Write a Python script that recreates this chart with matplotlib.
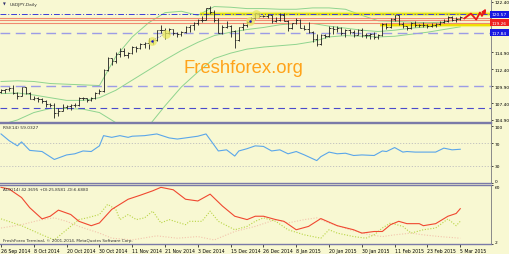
import matplotlib
matplotlib.use('Agg')
import matplotlib.pyplot as plt

BG = '#f8f8d2'
plt.rcParams['font.family'] = ['DejaVu Sans']

# daily bars, 26 Sep 2014 .. 5 Mar 2015 (bar index 0..112)
o = [109.05, 109.28, 109.45, 109.65, 108.90, 108.48, 109.77, 108.85, 108.05, 108.10,
     108.00, 107.70, 107.34, 107.18, 105.92, 106.28, 106.88, 106.91, 107.18, 107.08,
     108.20, 108.12, 107.81, 108.17, 108.89, 109.21, 112.31, 114.04, 113.58, 114.70,
     115.05, 114.59, 114.78, 115.77, 115.50, 116.18, 116.33, 116.65, 116.68, 118.20,
     118.22, 117.74, 118.37, 117.80, 117.69, 117.98, 118.65, 118.90, 119.20, 119.78,
     119.75, 121.43, 120.93, 119.70, 117.82, 118.70, 118.80, 118.08, 116.77, 118.60,
     118.90, 119.48, 120.05, 120.70, 120.30, 120.35, 120.40, 119.60, 119.75, 120.48,
     119.60, 118.47, 119.20, 119.78, 118.57, 118.45, 117.98, 116.93, 116.18, 117.53,
     117.30, 118.50, 118.34, 118.52, 117.72, 118.30, 117.88, 117.55, 118.27, 117.48,
     117.52, 117.60, 117.23, 117.53, 119.10, 118.64, 119.90, 120.38, 119.05, 118.78,
     118.50, 119.30, 118.90, 118.92, 119.00, 118.80, 118.95, 119.15, 119.45, 119.60,
     120.15, 119.75, 119.80]
h = [109.45, 109.55, 109.85, 110.08, 109.05, 109.85, 109.80, 109.05, 108.50, 108.35,
     108.15, 107.80, 107.45, 107.40, 106.60, 107.20, 107.10, 107.25, 107.35, 108.30,
     108.35, 108.20, 108.25, 109.00, 109.45, 112.46, 114.20, 114.10, 114.90, 115.50,
     115.60, 115.00, 115.90, 115.85, 116.25, 116.40, 117.10, 116.90, 118.25, 118.95,
     118.50, 118.50, 118.45, 118.00, 118.10, 118.75, 119.00, 119.35, 119.90, 120.25,
     121.45, 121.85, 121.20, 120.05, 118.95, 119.55, 119.00, 118.20, 118.70, 119.20,
     119.60, 120.15, 120.80, 120.75, 120.50, 120.65, 120.45, 120.20, 120.75, 120.80,
     119.70, 119.30, 119.95, 119.90, 119.00, 119.35, 118.15, 117.70, 117.65, 117.70,
     118.85, 118.75, 118.85, 118.70, 118.40, 118.40, 118.30, 118.45, 118.55, 117.75,
     117.85, 117.95, 117.60, 119.20, 119.25, 120.05, 120.48, 120.40, 119.40, 118.80,
     119.45, 119.55, 119.10, 119.40, 119.15, 119.30, 119.25, 119.50, 119.85, 120.30,
     120.25, 120.10, 120.25]
l = [108.85, 108.90, 109.25, 108.75, 108.00, 108.40, 108.70, 107.95, 107.85, 107.60,
     107.40, 106.75, 106.85, 105.23, 105.50, 106.20, 106.55, 106.35, 106.80, 106.95,
     107.90, 107.60, 107.75, 108.05, 108.80, 109.10, 112.20, 113.00, 113.40, 114.20,
     114.40, 114.10, 114.60, 114.90, 115.40, 115.60, 115.45, 116.20, 116.60, 117.75,
     116.90, 117.60, 117.50, 117.25, 117.40, 117.85, 117.90, 118.30, 119.00, 119.40,
     119.70, 120.60, 119.40, 117.80, 117.65, 118.50, 117.20, 115.57, 116.60, 118.30,
     118.70, 119.40, 119.90, 120.20, 120.15, 120.00, 119.30, 119.40, 119.55, 119.55,
     118.05, 118.35, 119.05, 118.50, 118.30, 117.75, 116.40, 115.85, 116.05, 117.05,
     117.25, 117.60, 117.90, 117.50, 117.25, 117.65, 117.25, 117.45, 117.25, 117.00,
     116.95, 116.85, 116.95, 117.40, 118.35, 118.55, 119.60, 118.90, 118.55, 118.30,
     118.40, 118.70, 118.60, 118.60, 118.55, 118.65, 118.65, 118.90, 119.30, 119.45,
     119.60, 119.35, 119.70]
c = [109.28, 109.45, 109.65, 108.90, 108.48, 109.77, 108.85, 108.05, 108.10, 108.00,
     107.70, 107.34, 107.18, 105.92, 106.28, 106.88, 106.91, 107.18, 107.08, 108.20,
     108.12, 107.81, 108.17, 108.89, 109.21, 112.31, 114.04, 113.58, 114.70, 115.05,
     114.59, 114.78, 115.77, 115.50, 116.18, 116.33, 116.65, 116.68, 118.20, 118.22,
     117.74, 118.37, 117.80, 117.69, 117.98, 118.65, 118.90, 119.20, 119.78, 119.75,
     121.43, 120.93, 119.70, 117.82, 118.70, 118.80, 118.08, 116.77, 118.60, 118.90,
     119.48, 120.05, 120.70, 120.30, 120.35, 120.40, 119.60, 119.75, 120.48, 119.60,
     118.47, 119.20, 119.78, 118.57, 118.45, 117.98, 116.93, 116.18, 117.53, 117.30,
     118.50, 118.34, 118.52, 117.72, 118.30, 117.88, 117.55, 118.27, 117.48, 117.52,
     117.60, 117.23, 117.53, 119.10, 118.64, 119.90, 120.38, 119.05, 118.78, 118.50,
     119.30, 118.90, 118.92, 119.00, 118.80, 118.95, 119.15, 119.45, 119.60, 120.15,
     119.75, 119.80, 120.15]

# bollinger bands every 4 bars
bb_idx = [0, 4, 8, 12, 16, 20, 24, 28, 32, 36, 40, 44, 48, 52, 56, 60, 64, 68, 72,
          76, 80, 84, 88, 92, 96, 100, 104, 108, 112]
bb_up = [110.6, 110.7, 110.6, 110.3, 110.2, 110.1, 110.0, 114.3, 117.2, 119.3, 120.8,
         121.0, 120.4, 121.7, 121.6, 121.4, 121.4, 121.3, 121.3, 121.5, 121.5, 121.3,
         120.4, 119.6, 119.5, 119.4, 119.3, 119.4, 119.8]
bb_mid = [108.8, 108.9, 108.6, 108.2, 107.8, 107.8, 108.2, 109.3, 110.8, 112.3, 113.8,
          115.2, 116.4, 117.4, 117.9, 118.3, 118.6, 119.0, 119.2, 119.2, 118.8, 118.5,
          118.2, 118.0, 118.2, 118.5, 118.7, 118.9, 119.2]
bb_low = [104.2, 104.9, 106.0, 106.6, 106.6, 106.5, 106.0, 104.5, 103.5, 104.0, 107.0,
          109.8, 112.0, 114.0, 114.8, 115.4, 115.7, 115.9, 116.1, 116.5, 117.2, 117.4,
          117.3, 117.2, 117.3, 117.6, 117.9, 118.3, 118.7]

rsi_idx = [0, 2, 4, 5, 7, 10, 13, 16, 18, 20, 22, 24, 25, 27, 29, 31, 32, 35, 38, 41,
           43, 46, 48, 50, 53, 55, 57, 58, 60, 62, 64, 66, 68, 70, 72, 74, 77, 78, 80,
           82, 84, 86, 88, 91, 93, 94, 96, 98, 99, 101, 103, 106, 108, 110, 112]
rsi_val = [86, 74, 65, 72, 57, 55, 41, 49, 51, 56, 55, 65, 83, 80, 83, 80, 82, 83, 86,
           79, 77, 80, 82, 86, 56, 58, 47, 56, 60, 65, 64, 56, 58, 51, 55, 49, 39, 46,
           54, 51, 52, 48, 49, 48, 56, 55, 62, 54, 55, 54, 54, 54, 61, 58, 59]

adx_idx = [0, 2, 5, 7, 10, 12, 14, 17, 19, 22, 24, 27, 31, 34, 37, 39, 42, 45, 48, 51,
           54, 57, 60, 62, 64, 67, 69, 72, 75, 78, 82, 86, 88, 91, 93, 95, 97, 99, 102,
           103, 106, 109, 111, 112]
adx_val = [57.7, 56, 47.7, 37.7, 26.7, 29.3, 35.3, 31, 24.3, 20, 22.7, 36, 46, 50, 54.3,
           57.7, 55.3, 46, 44.3, 51, 39.3, 29.3, 26, 29.3, 29.3, 26, 24.3, 16, 19.3, 27,
           20, 16, 12.7, 14.3, 14.3, 21, 24.3, 22, 22, 20, 22, 29.3, 32, 36.7]
pdi_idx = [0, 5, 10, 13, 16, 19, 21, 24, 26, 28, 29, 31, 33, 35, 37, 39, 41, 45, 46, 49,
           51, 53, 57, 60, 62, 64, 67, 70, 74, 78, 80, 82, 86, 89, 91, 93, 95, 98, 100,
           103, 106, 109, 111, 112]
pdi_val = [26.7, 20, 11, 6, 16, 26, 27.7, 31, 41, 36, 26, 31, 26, 27.7, 34.3, 22.7, 26,
           21, 24.3, 24.3, 34.3, 24.3, 16, 19.3, 24.3, 27.7, 24.3, 16, 11, 7.7, 16, 12.7,
           9.3, 7.7, 11, 17.7, 22.7, 19.3, 12.7, 16, 17.7, 26.7, 20, 24.3]
mdi_idx = [0, 5, 10, 13, 16, 19, 24, 27, 32, 38, 43, 48, 52, 57, 62, 67, 70, 74, 77, 80,
           85, 90, 93, 96, 100, 103, 107, 112]
mdi_val = [17.7, 21, 26, 27.7, 24.3, 19.3, 12.7, 7.7, 6, 10, 7.7, 9.3, 6, 14.3, 19.3, 26,
           22.7, 26, 27.7, 22.7, 16, 11, 9.3, 11, 12.7, 11, 9.3, 7.7]

date_idx = [0, 8, 16, 24, 32, 40, 48, 56, 64, 72, 80, 88, 96, 104, 112]
date_lbl = ['26 Sep 2014', '8 Oct 2014', '20 Oct 2014', '30 Oct 2014', '11 Nov 2014',
            '21 Nov 2014', '3 Dec 2014', '15 Dec 2014', '26 Dec 2014', '8 Jan 2015',
            '20 Jan 2015', '30 Jan 2015', '11 Feb 2015', '23 Feb 2015', '5 Mar 2015']

price_ticks = [122.40, 114.90, 112.40, 109.90, 107.40, 104.90]
salmon_lvls = [120.05, 119.70, 119.28]
res_lvl = 120.57
sup_lvl = 117.84
yel_lvl = 119.03
dash_lvls = [110.0, 106.69]

# trade marks and forecast path
mark_idx = [36.8, 40.2, 60.7, 62.2]
mark_px = [116.65, 117.69, 119.52, 120.66]
fc_idx = [113.0, 114.6, 115.9, 116.8, 117.3, 118.3]
fc_px = [119.95, 120.66, 119.77, 120.81, 120.36, 121.40]

XL = (-0.25, 119.5)
W, H = 510, 255
fig = plt.figure(figsize=(W / 100, H / 100), dpi=100, facecolor=BG)
AW = 491 / W


def style(ax):
    ax.set_facecolor(BG)
    ax.set_xlim(*XL)
    ax.yaxis.tick_right()
    ax.tick_params(axis='y', labelsize=3.2, length=1.5, width=0.5, pad=1, colors='black')
    ax.tick_params(axis='x', bottom=False, labelbottom=False)
    ax.spines['left'].set_visible(False)
    for s in ('top', 'bottom'):
        ax.spines[s].set_color('#7a7aa8')
        ax.spines[s].set_linewidth(1.0)
    ax.spines['right'].set_color('#8a8a8a')
    ax.spines['right'].set_linewidth(0.7)


# ---- main price panel
ax = fig.add_axes([0, 1 - 123 / H, AW, 123 / H])
style(ax)
ax.spines['top'].set_visible(False)
ax.set_ylim(104.6, 122.82)
ax.set_yticks(price_ticks)
ax.set_yticklabels(['%.2f' % p for p in price_ticks])

ax.plot(bb_idx, bb_up, color='#8fd48f', lw=0.7)
ax.plot(bb_idx, bb_mid, color='#8fd48f', lw=0.7)
ax.plot(bb_idx, bb_low, color='#8fd48f', lw=0.7)

ax.hlines(res_lvl, 48.5, XL[1], color='#ecec20', lw=3.2, alpha=0.55)
ax.hlines(res_lvl, 48.5, XL[1], color='#e0e000', lw=1.2)
ax.hlines(yel_lvl, 92.5, XL[1], color='#ecec20', lw=3.0, alpha=0.5)
ax.hlines(yel_lvl, 92.5, XL[1], color='#f0e000', lw=1.4)
for lv in salmon_lvls:
    ax.axhline(lv, color='#f08a70', lw=0.8)
ax.axhline(res_lvl, color='#3c3cd8', lw=0.7, dashes=(6, 2, 1, 2))
ax.axhline(sup_lvl, color='#9c9ce6', lw=1.0, dashes=(7, 4))
ax.axhline(dash_lvls[0], color='#9c9ce6', lw=1.0, dashes=(7, 4))
ax.axhline(dash_lvls[1], color='#4a4acc', lw=0.8, dashes=(6, 4))

idx = list(range(len(c)))
ax.vlines(idx, l, h, color='#1e1e1e', lw=0.6)
ax.hlines(o, [i - 0.4 for i in idx], idx, color='#1e1e1e', lw=0.6)
ax.hlines(c, idx, [i + 0.4 for i in idx], color='#1e1e1e', lw=0.6)

ax.plot(mark_idx[:2], mark_px[:2], color='#3030d0', lw=0.5, ls=':')
ax.scatter(mark_idx, mark_px, s=40, color='#e8e860', alpha=0.75, lw=0, zorder=4)
ax.scatter(mark_idx[0::2], mark_px[0::2], s=3, color='#1414c8', lw=0, zorder=5)

ax.plot(fc_idx[:-1], fc_px[:-1], color='#e81818', lw=1.3, zorder=6)
ax.annotate('', xy=(fc_idx[-1], fc_px[-1]), xytext=(fc_idx[-2], fc_px[-2]),
            arrowprops=dict(arrowstyle='-|>', color='#e81818', lw=1.3,
                            mutation_scale=5, shrinkA=0, shrinkB=0), zorder=6)

ax.text(0.495, 0.447, 'Freshforex.org', transform=ax.transAxes, ha='center',
        va='center', fontsize=13.3, color='#ffa31a', family='Liberation Sans')
ax.text(0.006, 0.962, '\u25bc', transform=ax.transAxes, fontsize=2.6,
        color='#303070', va='center')
ax.text(0.019, 0.962, 'USDJPY,Daily', transform=ax.transAxes, fontsize=3.2,
        color='#303030', va='center')

yt = ax.get_yaxis_transform()
for val, txt, col in [(res_lvl, '120.57', '#1818e0'), (sup_lvl, '117.84', '#1818e0'),
                      (119.28, '119.26', '#ee2020')]:
    ax.text(1.002, val, txt, transform=yt, fontsize=3.2, color='white', ha='left',
            va='center', clip_on=False, zorder=10,
            bbox=dict(boxstyle='square,pad=0.35', fc=col, ec='none'))

# ---- RSI panel
ar = fig.add_axes([0, 1 - 184 / H, AW, 60 / H])
style(ar)
ar.set_ylim(-0.5, 105.3)
ar.set_yticks([0, 30, 70, 100])
ar.set_yticklabels(['0', '30', '70', '100'])
ar.get_yticklabels()[0].set_va('bottom')
ar.axhline(70, color='#bdbdbd', lw=0.6, dashes=(1.5, 2))
ar.axhline(30, color='#bdbdbd', lw=0.6, dashes=(1.5, 2))
ar.plot(rsi_idx, rsi_val, color='#5aa6ea', lw=0.8)
ar.text(0.006, 0.93, 'RSI(14) 59.0327', transform=ar.transAxes, fontsize=3.2,
        color='#303030', va='center')

# ---- ADX panel
ad = fig.add_axes([0, 1 - 245 / H, AW, 59 / H])
style(ad)
ad.set_ylim(2, 60)
ad.set_yticks([2, 60])
ad.set_yticklabels(['2', '60'])
ad.get_yticklabels()[0].set_va('bottom')
ad.get_yticklabels()[1].set_va('top')
ad.plot(mdi_idx, mdi_val, color='#f2c4ac', lw=0.8, dashes=(1, 1.5))
ad.plot(pdi_idx, pdi_val, color='#b8d444', lw=0.8, dashes=(1, 1.5))
ad.plot(adx_idx, adx_val, color='#f04830', lw=0.8)
ad.text(0.006, 0.93, 'ADX(14) 42.3695 +DI:25.8581 -DI:6.6880', transform=ad.transAxes,
        fontsize=3.0, color='#303030', va='center')
ad.text(0.006, 0.07, 'FreshForex Terminal, \u00a9 2001-2014, MetaQuotes Software Corp.',
        transform=ad.transAxes, fontsize=3.0, color='#303030', va='center')
ad.set_xticks(date_idx)
ad.set_xticklabels(date_lbl, ha='left')
ad.tick_params(axis='x', bottom=True, labelbottom=True, labelsize=3.3, length=2,
               width=0.5, pad=1, colors='black')

fig.savefig('out.png', dpi=100, facecolor=BG)
